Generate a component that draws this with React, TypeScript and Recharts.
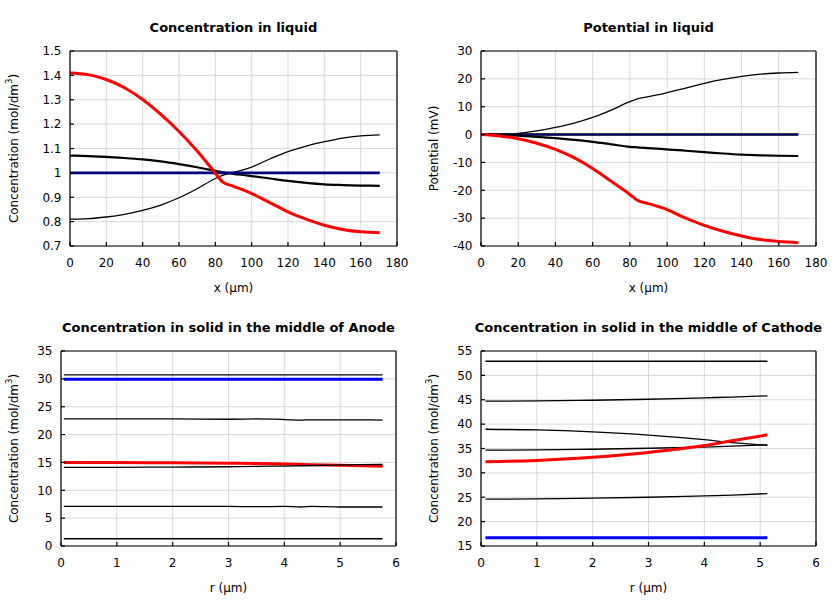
import { CartesianGrid, Line, LineChart, XAxis, YAxis } from "recharts";

// electrolyte, across the cell (x in µm)
const xLiquid = [0, 10, 20, 30, 40, 50, 60, 70, 80, 84, 90, 98, 110, 120, 130, 140, 150, 160, 170.5];
const concLiquidInit = [1, 1, 1, 1, 1, 1, 1, 1, 1, 1, 1, 1, 1, 1, 1, 1, 1, 1, 1];
const concLiquidRise = [0.81, 0.812, 0.819, 0.83, 0.846, 0.868, 0.898, 0.935, 0.977, 0.99, 1.002, 1.018, 1.057, 1.087, 1.11, 1.128, 1.143, 1.152, 1.156];
const concLiquidFall = [1.071, 1.069, 1.066, 1.061, 1.055, 1.047, 1.036, 1.023, 1.008, 1.002, 0.996, 0.989, 0.977, 0.967, 0.959, 0.953, 0.95, 0.948, 0.947];
const concLiquidEnd = [1.41, 1.403, 1.383, 1.349, 1.301, 1.24, 1.17, 1.09, 0.999, 0.963, 0.945, 0.922, 0.878, 0.84, 0.81, 0.785, 0.768, 0.758, 0.754];

const potLiquidRise = [0, 0.05, 0.4, 1.3, 2.55, 4.1, 6.15, 8.8, 11.8, 12.8, 13.6, 14.7, 16.7, 18.4, 19.8, 20.9, 21.7, 22.1, 22.3];
const potLiquidZero = [0, 0, 0, 0, 0, 0, 0, 0, 0, 0, 0, 0, 0, 0, 0, 0, 0, 0, 0];
const potLiquidFall = [0, -0.1, -0.4, -0.8, -1.3, -1.9, -2.6, -3.5, -4.4, -4.6, -4.9, -5.2, -5.8, -6.3, -6.8, -7.2, -7.45, -7.6, -7.7];
const potLiquidEnd = [0, -0.5, -1.5, -3.1, -5.3, -8.3, -12.2, -16.8, -21.5, -23.6, -24.8, -26.4, -30.0, -32.6, -34.7, -36.4, -37.7, -38.4, -38.8];

// particle radius (µm)
const rAnode = [0.05, 1, 2, 3, 3.5, 4, 4.3, 4.5, 5, 5.76];
const anodeA = [30.7, 30.7, 30.7, 30.7, 30.7, 30.7, 30.7, 30.7, 30.7, 30.7];
const anodeInit = [29.95, 29.95, 29.95, 29.95, 29.95, 29.95, 29.95, 29.95, 29.95, 29.95];
const anodeB = [22.8, 22.8, 22.8, 22.75, 22.8, 22.7, 22.6, 22.65, 22.65, 22.6];
const anodeC = [14.1, 14.12, 14.17, 14.22, 14.28, 14.35, 14.4, 14.45, 14.55, 14.65];
const anodeD = [7.1, 7.1, 7.1, 7.1, 7.05, 7.1, 7.0, 7.1, 7.0, 7.0];
const anodeE = [1.3, 1.3, 1.3, 1.3, 1.3, 1.3, 1.3, 1.3, 1.3, 1.3];
const anodeEnd = [15.0, 14.98, 14.93, 14.85, 14.8, 14.7, 14.65, 14.6, 14.5, 14.3];

const rCathode = [0.08, 1, 2, 3, 4, 4.5, 5.13];
const cathodeA = [52.9, 52.9, 52.9, 52.9, 52.9, 52.9, 52.9];
const cathodeB = [44.7, 44.75, 44.9, 45.1, 45.4, 45.55, 45.8];
const cathodeC = [38.95, 38.8, 38.4, 37.75, 36.8, 36.2, 35.65];
const cathodeD = [34.65, 34.7, 34.85, 35.05, 35.3, 35.5, 35.75];
const cathodeE = [24.6, 24.65, 24.8, 25.0, 25.3, 25.45, 25.75];
const cathodeInit = [16.7, 16.7, 16.7, 16.7, 16.7, 16.7, 16.7];
const cathodeEnd = [32.3, 32.55, 33.2, 34.2, 35.6, 36.6, 37.8];

const xTicksLiquid = [0, 20, 40, 60, 80, 100, 120, 140, 160, 180];
const rTicks = [0, 1, 2, 3, 4, 5, 6];
const concLiquidTicks = [0.7, 0.8, 0.9, 1, 1.1, 1.2, 1.3, 1.4, 1.5];
const potLiquidTicks = [-40, -30, -20, -10, 0, 10, 20, 30];
const anodeTicks = [0, 5, 10, 15, 20, 25, 30, 35];
const cathodeTicks = [15, 20, 25, 30, 35, 40, 45, 50, 55];

const NAVY = "#000080";
const BLUE = "#0000ff";
const RED = "#ff0000";
const BLACK = "#000000";

type Series = { key: string; color: string; width: number };

const liquidRows = xLiquid.map((x, i) => ({
  x,
  rise: concLiquidRise[i],
  fall: concLiquidFall[i],
  init: concLiquidInit[i],
  end: concLiquidEnd[i],
}));

const potentialRows = xLiquid.map((x, i) => ({
  x,
  rise: potLiquidRise[i],
  zero: potLiquidZero[i],
  zeroInit: potLiquidZero[i],
  fall: potLiquidFall[i],
  end: potLiquidEnd[i],
}));

const anodeRows = rAnode.map((x, i) => ({
  x,
  a: anodeA[i],
  init: anodeInit[i],
  b: anodeB[i],
  c: anodeC[i],
  d: anodeD[i],
  e: anodeE[i],
  end: anodeEnd[i],
}));

const cathodeRows = rCathode.map((x, i) => ({
  x,
  a: cathodeA[i],
  b: cathodeB[i],
  c: cathodeC[i],
  d: cathodeD[i],
  e: cathodeE[i],
  init: cathodeInit[i],
  end: cathodeEnd[i],
}));

const W = 420;
const H = 300;
const PLOT_TOP = 51;
const PLOT_H = 195;
const AXIS_FONT = 12;

type PanelProps = {
  left: number;
  top: number;
  yWidth: number;
  plotRight: number;
  title: string;
  rows: Record<string, number>[];
  series: Series[];
  xDomain: [number, number];
  xTicks: number[];
  xLabel: string;
  yDomain: [number, number];
  yTicks: number[];
  yLabel: string;
  ySup?: string;
  yLabelEnd?: string;
};

function Panel(p: PanelProps) {
  const plotLeft = 10 + p.yWidth;
  const midX = (plotLeft + p.plotRight) / 2;
  const midY = PLOT_TOP + PLOT_H / 2;
  const tickStyle = { fill: "#000", fontSize: AXIS_FONT };
  const line = { stroke: "#000", strokeWidth: 1.2 };

  return (
    <div style={{ position: "absolute", left: p.left, top: p.top, width: W, height: H }}>
      <LineChart
        width={W}
        height={H}
        data={p.rows}
        margin={{ top: PLOT_TOP - 1, right: W - p.plotRight - 1, left: 10, bottom: 0 }}
      >
        <CartesianGrid stroke="#d9d9d9" strokeWidth={1} />
        <XAxis
          dataKey="x"
          type="number"
          domain={p.xDomain}
          ticks={p.xTicks}
          interval={0}
          height={54}
          tickSize={-4}
          tickMargin={16.5}
          tick={tickStyle}
          tickLine={line}
          axisLine={line}
          allowDataOverflow
          label={{ value: p.xLabel, position: "insideBottom", offset: 8, fill: "#000", fontSize: AXIS_FONT }}
        />
        <XAxis
          xAxisId="top"
          orientation="top"
          type="number"
          domain={p.xDomain}
          ticks={p.xTicks}
          interval={0}
          height={1}
          tickSize={-4}
          tick={false}
          tickLine={line}
          axisLine={line}
          allowDataOverflow
        />
        <YAxis
          type="number"
          domain={p.yDomain}
          ticks={p.yTicks}
          interval={0}
          width={p.yWidth}
          tickSize={-4}
          tickMargin={12.5}
          tick={tickStyle}
          tickLine={line}
          axisLine={line}
          allowDataOverflow
          label={{
            content: () => (
              <text
                x={14}
                y={midY}
                transform={`rotate(-90 14 ${midY})`}
                textAnchor="middle"
                dominantBaseline="central"
                fill="#000"
                fontSize={AXIS_FONT}
              >
                {p.yLabel}
                {p.ySup ? (
                  <>
                    <tspan dy={-5} fontSize={8.5}>
                      {p.ySup}
                    </tspan>
                    <tspan dy={5}>{p.yLabelEnd}</tspan>
                  </>
                ) : null}
              </text>
            ),
          }}
        />
        <YAxis
          yAxisId="right"
          orientation="right"
          type="number"
          domain={p.yDomain}
          ticks={p.yTicks}
          interval={0}
          width={1}
          tickSize={-4}
          tick={false}
          tickLine={line}
          axisLine={line}
          allowDataOverflow
        />
        {p.series.map((s) => (
          <Line
            key={s.key}
            dataKey={s.key}
            type="monotone"
            stroke={s.color}
            strokeWidth={s.width}
            dot={false}
            activeDot={false}
            isAnimationActive={false}
          />
        ))}
      </LineChart>
      <svg
        width={W}
        height={H}
        style={{ position: "absolute", left: 0, top: 0, pointerEvents: "none" }}
      >
        <text x={midX} y={31.7} textAnchor="middle" fontSize={13} fontWeight="bold" fill="#000">
          {p.title}
        </text>
      </svg>
    </div>
  );
}

export default function App() {
  return (
    <div
      style={{
        position: "absolute",
        left: 0,
        top: 0,
        width: 840,
        height: 600,
        background: "#fff",
        fontFamily: "'DejaVu Sans', sans-serif",
      }}
    >
      <Panel
        left={0}
        top={0}
        yWidth={60}
        plotRight={397}
        title="Concentration in liquid"
        rows={liquidRows}
        series={[
          { key: "rise", color: BLACK, width: 1.3 },
          { key: "fall", color: BLACK, width: 2.2 },
          { key: "init", color: NAVY, width: 2.6 },
          { key: "end", color: RED, width: 3 },
        ]}
        xDomain={[0, 180]}
        xTicks={xTicksLiquid}
        xLabel="x (µm)"
        yDomain={[0.7, 1.5]}
        yTicks={concLiquidTicks}
        yLabel="Concentration (mol/dm"
        ySup="3"
        yLabelEnd=")"
      />
      <Panel
        left={420}
        top={0}
        yWidth={51}
        plotRight={396}
        title="Potential in liquid"
        rows={potentialRows}
        series={[
          { key: "rise", color: BLACK, width: 1.3 },
          { key: "zero", color: BLACK, width: 2.6 },
          { key: "zeroInit", color: NAVY, width: 1.6 },
          { key: "fall", color: BLACK, width: 2.2 },
          { key: "end", color: RED, width: 3 },
        ]}
        xDomain={[0, 180]}
        xTicks={xTicksLiquid}
        xLabel="x (µm)"
        yDomain={[-40, 30]}
        yTicks={potLiquidTicks}
        yLabel="Potential (mV)"
      />
      <Panel
        left={0}
        top={300}
        yWidth={51}
        plotRight={396}
        title="Concentration in solid in the middle of Anode"
        rows={anodeRows}
        series={[
          { key: "a", color: BLACK, width: 1.3 },
          { key: "init", color: BLUE, width: 3 },
          { key: "b", color: BLACK, width: 1.3 },
          { key: "end", color: RED, width: 3 },
          { key: "c", color: BLACK, width: 1.3 },
          { key: "d", color: BLACK, width: 1.3 },
          { key: "e", color: BLACK, width: 1.3 },
        ]}
        xDomain={[0, 6]}
        xTicks={rTicks}
        xLabel="r (µm)"
        yDomain={[0, 35]}
        yTicks={anodeTicks}
        yLabel="Concentration (mol/dm"
        ySup="3"
        yLabelEnd=")"
      />
      <Panel
        left={420}
        top={300}
        yWidth={51}
        plotRight={396}
        title="Concentration in solid in the middle of Cathode"
        rows={cathodeRows}
        series={[
          { key: "a", color: BLACK, width: 1.3 },
          { key: "b", color: BLACK, width: 1.3 },
          { key: "c", color: BLACK, width: 1.3 },
          { key: "d", color: BLACK, width: 1.3 },
          { key: "e", color: BLACK, width: 1.3 },
          { key: "init", color: BLUE, width: 3 },
          { key: "end", color: RED, width: 3 },
        ]}
        xDomain={[0, 6]}
        xTicks={rTicks}
        xLabel="r (µm)"
        yDomain={[15, 55]}
        yTicks={cathodeTicks}
        yLabel="Concentration (mol/dm"
        ySup="3"
        yLabelEnd=")"
      />
    </div>
  );
}
